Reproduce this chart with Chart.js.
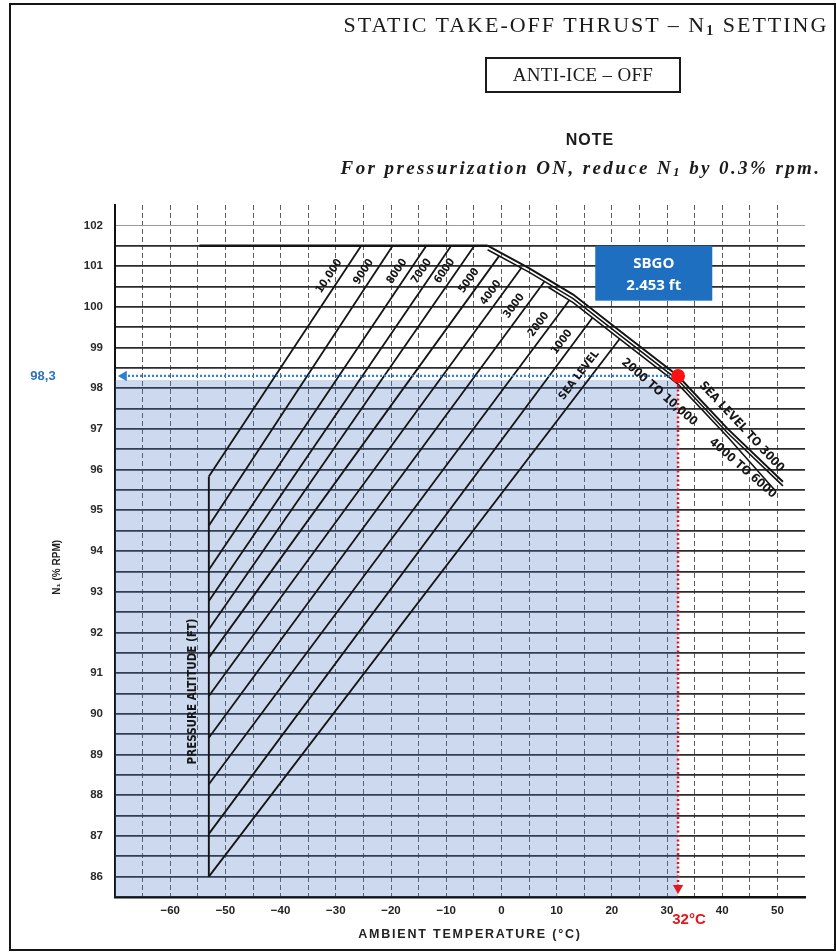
<!DOCTYPE html>
<html>
<head>
<meta charset="utf-8">
<title>Static take-off thrust – N1 setting</title>
<script src="https://cdn.jsdelivr.net/npm/chart.js@4.4.1/dist/chart.umd.min.js"></script>
<style>
    html, body { margin: 0; padding: 0; background: #fff; }
    #page { position: relative; width: 836px; height: 952px; overflow: hidden; }
    #frame { position: absolute; left: 9px; top: 3px; width: 823px; height: 944px; border: 2px solid #151515; }
    #chart-box { position: absolute; left: 0; top: 0; width: 836px; height: 952px; }
    .hdr { position: absolute; white-space: nowrap; color: #1b1b1b; }
    #title { left: 336px; top: 12px; width: 500px; text-align: center; font: 22px "Liberation Serif", "Times New Roman", serif; letter-spacing: 2px; }
    #title sub { font-size: 14px; font-weight: bold; vertical-align: -3px; }
    #anti-ice { left: 485px; top: 57px; width: 196px; height: 36px; box-sizing: border-box; border: 2px solid #1b1b1b; text-align: center; font: 19px/32px "Liberation Serif", serif; letter-spacing: 0.3px; }
    #note { left: 490px; top: 131px; width: 200px; text-align: center; font: bold 16px "Liberation Sans", Arial, sans-serif; letter-spacing: 1px; }
    #note-text { left: 326px; top: 157px; width: 510px; text-align: center; font: italic bold 19px "Liberation Serif", serif; letter-spacing: 2.4px; }
    #note-text sub { font-size: 13px; vertical-align: -2px; }
</style>
</head>
<body>
<div id="page">
    <div id="chart-box"><canvas id="n1-chart"></canvas></div>
    <div id="frame"></div>
    <div class="hdr" id="title">STATIC TAKE-OFF THRUST – N<sub>1</sub> SETTING</div>
    <div class="hdr" id="anti-ice">ANTI-ICE – OFF</div>
    <div class="hdr" id="note">NOTE</div>
    <div class="hdr" id="note-text">For pressurization ON, reduce N<sub>1</sub> by 0.3% rpm.</div>
</div>
<script>
// Tick labels
const xTickLabels = [-60, -50, -40, -30, -20, -10, 0, 10, 20, 30, 40, 50];
const yTickLabels = [86, 87, 88, 89, 90, 91, 92, 93, 94, 95, 96, 97, 98, 99, 100, 101, 102];

// Pressure altitude lines (start on the -53 °C boundary, end on the limit lines)
const altitudeNames = ['SEA LEVEL', '1000', '2000', '3000', '4000', '5000', '6000', '7000', '8000', '9000', '10,000'];
const altStartTemp = -53;
const altStartN1 = [86.0, 87.05, 88.27, 89.41, 90.44, 91.38, 92.08, 92.77, 93.54, 94.62, 95.83];
const altEndTemp = [21.4, 16.5, 12.3, 7.8, 3.6, -0.4, -4.9, -9.1, -13.6, -19.7, -25.4];
const altEndN1 = [99.21, 99.73, 100.16, 100.62, 100.95, 101.25, 101.5, 101.5, 101.5, 101.5, 101.5];

// Limit lines
const limitTemps = [-2.5, 5, 13, 22, 32, 41, 51];
const limitUpperN1 = [101.5, 100.95, 100.3, 99.35, 98.3, 97.0, 95.7];
const limitMidN1 = [101.4, 100.85, 100.2, 99.25, 98.2, 96.9, 95.6];
const limit2Temps = [8.5, 13, 22, 32, 41, 49.5];
const limit2N1 = [100.48, 100.1, 99.15, 98.1, 96.8, 95.5];
const topLimitTemps = [-54.7, -2.5];
const topLimitN1 = [101.5, 101.5];
const leftLimitTemps = [-53, -53];
const leftLimitN1 = [86.0, 95.83];

// SBGO reading
const siteTemp = 32;
const siteN1 = 98.3;
const shadeTopN1 = 98.2;
const siteName = 'SBGO';
const siteElevation = '2.453 ft';

function pts(xs, ys) {
    return xs.map((v, i) => ({ x: v, y: ys[i] }));
}

const SANS = '"Liberation Sans", Arial, sans-serif';
const NARROW = '"Liberation Sans Narrow", "DejaVu Sans Condensed", "Liberation Sans", sans-serif';

function lineSet(data, width) {
    return {
        data: data,
        borderColor: '#141414',
        borderWidth: width,
        pointRadius: 0,
        showLine: true,
        fill: false,
        tension: 0
    };
}

// text and box annotations drawn on top of the lines
const annotationPlugin = {
    id: 'annotations',
    afterDatasetsDraw(chart) {
        const { ctx, scales: { x, y } } = chart;
        ctx.save();

        // altitude labels along each line
        ctx.font = 'bold 11px ' + NARROW;
        ctx.fillStyle = '#161616';
        ctx.textAlign = 'center';
        ctx.textBaseline = 'middle';
        altitudeNames.forEach((name, i) => {
            const ex = x.getPixelForValue(altEndTemp[i]);
            const ey = y.getPixelForValue(altEndN1[i]);
            const sx = x.getPixelForValue(altStartTemp);
            const sy = y.getPixelForValue(altStartN1[i]);
            const len = Math.hypot(sx - ex, sy - ey);
            const ux = (sx - ex) / len, uy = (sy - ey) / len;
            const w = ctx.measureText(name).width;
            const d = 24 + w / 2, o = 10;
            const cx = ex + ux * d - uy * o;
            const cy = ey + uy * d + ux * o;
            ctx.save();
            ctx.translate(cx, cy);
            ctx.rotate(Math.atan2(-uy, -ux));
            ctx.fillText(name, 0, 0);
            ctx.restore();
        });

        // limit line labels
        const limitLabels = [
            { text: '2000 TO 10,000', t: 28.6, n: 97.9, a: 41 },
            { text: 'SEA LEVEL TO 3000', t: 43.5, n: 97.05, a: 47 },
            { text: '4000 TO 6000', t: 43.7, n: 96.03, a: 41 }
        ];
        ctx.font = 'bold 12px ' + NARROW;
        limitLabels.forEach(l => {
            ctx.save();
            ctx.translate(x.getPixelForValue(l.t), y.getPixelForValue(l.n));
            ctx.rotate(l.a * Math.PI / 180);
            ctx.fillText(l.text, 0, 0);
            ctx.restore();
        });

        // pressure altitude caption
        ctx.save();
        ctx.font = 'bold 11.5px ' + NARROW;
        ctx.translate(x.getPixelForValue(-55.8), y.getPixelForValue(90.55));
        ctx.rotate(-Math.PI / 2);
        ctx.fillText('PRESSURE ALTITUDE (FT)', 0, 0);
        ctx.restore();

        // axis titles
        ctx.save();
        ctx.font = 'bold 10px ' + SANS;
        ctx.fillStyle = '#222';
        ctx.translate(57, y.getPixelForValue(93.6));
        ctx.rotate(-Math.PI / 2);
        ctx.fillText('N\u2081 (% RPM)', 0, 0);
        ctx.restore();

        ctx.font = 'bold 12.5px ' + SANS;
        ctx.fillStyle = '#222';
        if ('letterSpacing' in ctx) ctx.letterSpacing = '1.8px';
        ctx.fillText('AMBIENT TEMPERATURE (\u00B0C)', 470, 935);
        if ('letterSpacing' in ctx) ctx.letterSpacing = '0px';

        // SBGO box
        const bx1 = x.getPixelForValue(17), bx2 = x.getPixelForValue(38.2);
        const by1 = y.getPixelForValue(101.5), by2 = y.getPixelForValue(100.15);
        ctx.fillStyle = '#1f6fc1';
        ctx.fillRect(bx1, by1, bx2 - bx1, by2 - by1);
        ctx.fillStyle = '#ffffff';
        ctx.font = 'bold 15px "Open Sans", ' + SANS;
        ctx.fillText(siteName, (bx1 + bx2) / 2, by1 + (by2 - by1) * 0.32);
        ctx.fillText(siteElevation, (bx1 + bx2) / 2, by1 + (by2 - by1) * 0.72);

        // reading labels
        ctx.font = 'bold 13px ' + SANS;
        ctx.fillStyle = '#2e75b6';
        ctx.fillText('98,3', 43, y.getPixelForValue(siteN1));
        ctx.font = 'bold 15px ' + SANS;
        ctx.fillStyle = '#e3161d';
        ctx.fillText('32\u00B0C', x.getPixelForValue(siteTemp) + 11, 920);

        ctx.restore();
    }
};

function renderN1Chart() {
    const ctx = document.getElementById('n1-chart');
    if (!ctx) return;

    const altitudeSets = altitudeNames.map((name, i) =>
        lineSet([{ x: altStartTemp, y: altStartN1[i] }, { x: altEndTemp[i], y: altEndN1[i] }], 1.8)
    );

    new Chart(ctx, {
        type: 'scatter',
        data: {
            datasets: [
                {
                    // operating point
                    data: [{ x: siteTemp, y: siteN1 }],
                    pointRadius: 7,
                    pointBackgroundColor: '#ff1010',
                    pointBorderWidth: 0
                },
                {
                    // N1 read-out
                    data: [{ x: siteTemp, y: siteN1 }, { x: -68.4, y: siteN1 }],
                    showLine: true,
                    borderColor: '#2f7fd0',
                    borderWidth: 2.2,
                    borderDash: [2, 2],
                    pointRadius: [0, 6],
                    pointStyle: 'triangle',
                    pointRotation: -90,
                    pointBackgroundColor: '#2f7fd0',
                    pointBorderWidth: 0
                },
                {
                    // temperature drop line
                    data: [{ x: siteTemp, y: siteN1 }, { x: siteTemp, y: 85.72 }],
                    showLine: true,
                    borderColor: '#e3161d',
                    borderWidth: 2.5,
                    borderDash: [2, 2.5],
                    pointRadius: [0, 6],
                    pointStyle: 'triangle',
                    pointRotation: 180,
                    pointBackgroundColor: '#e3161d',
                    pointBorderWidth: 0
                },
                lineSet(pts(limitTemps, limitUpperN1), 2),
                lineSet(pts(limitTemps, limitMidN1), 1.6),
                lineSet(pts(limit2Temps, limit2N1), 1.6),
                lineSet(pts(topLimitTemps, topLimitN1), 2.4),
                lineSet(pts(leftLimitTemps, leftLimitN1), 1.9),
                ...altitudeSets,
                {
                    // shaded area under the reading
                    data: [{ x: -70, y: shadeTopN1 }, { x: siteTemp, y: shadeTopN1 }],
                    showLine: true,
                    borderWidth: 0,
                    pointRadius: 0,
                    fill: 'start',
                    backgroundColor: 'rgba(68, 114, 196, 0.27)'
                }
            ]
        },
        options: {
            responsive: true,
            maintainAspectRatio: false,
            animation: false,
            layout: {
                padding: { top: 205, right: 31, bottom: 0, left: 0 }
            },
            plugins: {
                legend: { display: false },
                tooltip: { enabled: false }
            },
            scales: {
                x: {
                    type: 'linear',
                    min: -70,
                    max: 55,
                    afterFit: scale => { scale.height = 55; },
                    ticks: {
                        stepSize: 5,
                        autoSkip: false,
                        maxRotation: 0,
                        padding: 7,
                        color: '#222',
                        font: { family: SANS, size: 11.5, weight: 'bold' },
                        callback: v => xTickLabels.includes(v) ? String(v).replace('-', '\u2212') : ''
                    },
                    grid: {
                        drawTicks: false,
                        lineWidth: 1,
                        color: c => (c.tick && (c.tick.value === -70 || c.tick.value === 55)) ? 'rgba(0,0,0,0)' : '#5e5e5e'
                    },
                    border: { display: true, color: '#111', width: 2.5, dash: [5, 3] }
                },
                y: {
                    type: 'linear',
                    min: 85.5,
                    max: 102.5,
                    afterFit: scale => { scale.width = 115; },
                    ticks: {
                        stepSize: 0.5,
                        autoSkip: false,
                        padding: 12,
                        color: '#2a2a2a',
                        font: { family: SANS, size: 11.5, weight: 'bold' },
                        callback: v => yTickLabels.includes(v) ? String(v) : ''
                    },
                    grid: {
                        drawTicks: false,
                        lineWidth: c => (c.tick && c.tick.value === 102) ? 1 : 1.7,
                        color: c => {
                            if (!c.tick) return '#2b2b2b';
                            if (c.tick.value === 102.5 || c.tick.value === 85.5) return 'rgba(0,0,0,0)';
                            if (c.tick.value === 102) return '#9a9a9a';
                            return '#2b2b2b';
                        }
                    },
                    border: { display: true, color: '#111', width: 2 }
                }
            }
        },
        plugins: [annotationPlugin]
    });
}

renderN1Chart();
</script>
</body>
</html>
